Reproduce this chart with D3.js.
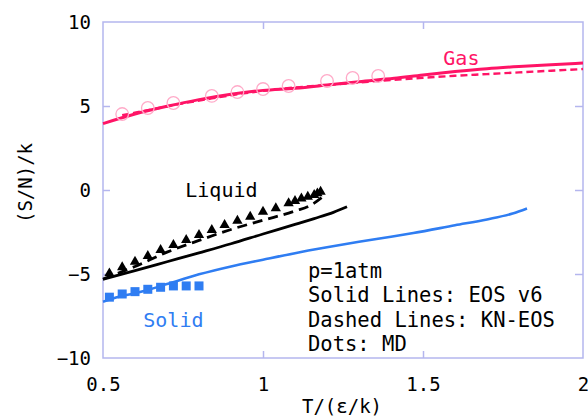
<!DOCTYPE html>
<html>
<head>
<meta charset="utf-8">
<script src="https://cdn.jsdelivr.net/npm/d3@7"></script>
<style>
  body { margin: 0; background: #fff; }
  svg { display: block; }
  text { font-family: "DejaVu Sans Mono", monospace; }
</style>
</head>
<body>
<svg id="chart"></svg>
<script>
// tick values
var xTicks = [0.5, 1, 1.5, 2];
var yTicks = [-10, -5, 0, 5, 10];

// EOS v6 (solid lines)
var gasSolidT = [0.5, 0.6, 0.7, 0.8, 0.9, 1.0, 1.1, 1.2, 1.3, 1.41, 1.5, 1.6, 1.7, 1.8, 1.9, 2.0];
var gasSolidS = [3.95, 4.52, 4.98, 5.38, 5.7, 5.93, 6.06, 6.25, 6.45, 6.65, 6.85, 7.05, 7.22, 7.35, 7.46, 7.56];
var liqSolidT = [0.5, 0.6, 0.7, 0.8, 0.9, 1.0, 1.1, 1.16, 1.22, 1.2625];
var liqSolidS = [-5.32, -4.8, -4.27, -3.74, -3.2, -2.62, -2.05, -1.7, -1.33, -1.0];
var solSolidT = [0.5, 0.55, 0.6, 0.64, 0.7, 0.8, 0.9, 1.0, 1.1, 1.2, 1.3, 1.4, 1.47, 1.6, 1.7, 1.78, 1.825];
var solSolidS = [-6.65, -6.35, -6.15, -5.95, -5.6, -5.02, -4.55, -4.15, -3.76, -3.41, -3.08, -2.78, -2.56, -2.1, -1.75, -1.4, -1.1];

// KN-EOS (dashed lines)
var gasDashT = [0.56, 0.64, 0.72, 0.84, 0.92, 1.0, 1.1, 1.2, 1.3, 1.4, 1.5, 1.6, 1.7, 1.8, 1.9, 2.0];
var gasDashS = [4.45, 4.75, 5.05, 5.45, 5.7, 5.9, 6.1, 6.25, 6.4, 6.55, 6.68, 6.8, 6.9, 7.0, 7.1, 7.2];
var liqDashT = [0.5, 0.6, 0.7, 0.8, 0.9, 1.0, 1.1, 1.15, 1.19];
var liqDashS = [-5.3, -4.55, -3.7, -3.0, -2.35, -1.8, -1.25, -0.9, -0.35];

// MD (dots)
var gasMdT = [0.56, 0.64, 0.72, 0.84, 0.92, 1.0, 1.08, 1.2, 1.28, 1.36];
var gasMdS = [4.52, 4.88, 5.18, 5.6, 5.83, 6.01, 6.19, 6.49, 6.67, 6.79];
var liqMdT = [0.52, 0.56, 0.6, 0.64, 0.68, 0.72, 0.76, 0.8, 0.84, 0.88, 0.92, 0.96, 1.0, 1.04, 1.08, 1.1, 1.12, 1.14, 1.16, 1.17, 1.18];
var liqMdS = [-4.96, -4.6, -4.27, -3.93, -3.57, -3.27, -2.98, -2.68, -2.38, -2.08, -1.83, -1.59, -1.29, -1.09, -0.79, -0.65, -0.5, -0.4, -0.3, -0.2, -0.1];
var solMdT = [0.52, 0.56, 0.6, 0.64, 0.68, 0.72, 0.76, 0.8];
var solMdS = [-6.38, -6.19, -6.05, -5.91, -5.79, -5.71, -5.71, -5.71];

var pink = "#ff1466", pinkLight = "#ffaac8", blue = "#2f7df2", frame = "#b4b6ee";

var W = 588, H = 418;
var margin = { left: 103, right: 5, top: 22, bottom: 60 };
var pw = W - margin.left - margin.right, ph = H - margin.top - margin.bottom;

var svg = d3.select("#chart").attr("width", W).attr("height", H);
var g = svg.append("g").attr("transform", "translate(" + margin.left + "," + margin.top + ")");

var x = d3.scaleLinear().domain([0.5, 2]).range([0, pw]);
var y = d3.scaleLinear().domain([-10, 10]).range([ph, 0]);

function zip(t, s) { return t.map((v, i) => ({ t: v, s: s[i] })); }

var line = d3.line().x(d => x(d.t)).y(d => y(d.s)).curve(d3.curveMonotoneX);

// frame
g.append("rect").attr("width", pw).attr("height", ph)
    .attr("fill", "none").attr("stroke", frame).attr("stroke-width", 1.5);

// axes, ticks pointing inwards
function styleAxis(sel) {
    sel.select(".domain").remove();
    sel.selectAll(".tick line").attr("stroke", frame).attr("stroke-width", 1.5);
    sel.selectAll(".tick text").attr("fill", "#000").style("font-size", "19px");
}
var inner = [1, 1.5];
var innerY = [-5, 0, 5];

g.append("g").attr("transform", "translate(0," + ph + ")")
    .call(d3.axisBottom(x).tickValues(xTicks).tickSize(0).tickPadding(20).tickFormat(d3.format("")))
    .call(styleAxis);
g.append("g").attr("transform", "translate(0," + ph + ")")
    .call(d3.axisBottom(x).tickValues(inner).tickSize(-7).tickFormat(""))
    .call(styleAxis);
g.append("g")
    .call(d3.axisTop(x).tickValues(inner).tickSize(-7).tickFormat(""))
    .call(styleAxis);
g.append("g")
    .call(d3.axisLeft(y).tickValues(yTicks).tickSize(0).tickPadding(12))
    .call(styleAxis);
g.append("g")
    .call(d3.axisLeft(y).tickValues(innerY).tickSize(-7).tickFormat(""))
    .call(styleAxis);
g.append("g").attr("transform", "translate(" + pw + ",0)")
    .call(d3.axisRight(y).tickValues(innerY).tickSize(-8).tickFormat(""))
    .call(styleAxis);

// lines
var plot = g.append("g");
function drawLine(t, s, color, width, dash) {
    plot.append("path").datum(zip(t, s))
        .attr("d", line).attr("fill", "none")
        .attr("stroke", color).attr("stroke-width", width)
        .attr("stroke-dasharray", dash || null);
}
drawLine(solSolidT, solSolidS, blue, 2.6);
drawLine(liqSolidT, liqSolidS, "#000", 2.8);
drawLine(liqDashT, liqDashS, "#000", 2.8, "10,6");
drawLine(gasDashT, gasDashS, pink, 2.4, "7,4");
drawLine(gasSolidT, gasSolidS, pink, 3);

// MD points
plot.selectAll("circle.gas").data(zip(gasMdT, gasMdS)).enter().append("circle")
    .attr("class", "gas")
    .attr("cx", d => x(d.t)).attr("cy", d => y(d.s)).attr("r", 6.3)
    .attr("fill", "none").attr("stroke", pinkLight).attr("stroke-width", 1.3);

plot.selectAll("path.liq").data(zip(liqMdT, liqMdS)).enter().append("path")
    .attr("class", "liq")
    .attr("transform", d => "translate(" + x(d.t) + "," + y(d.s) + ")")
    .attr("d", d3.symbol().type(d3.symbolTriangle).size(46))
    .attr("fill", "#000");

plot.selectAll("rect.sol").data(zip(solMdT, solMdS)).enter().append("rect")
    .attr("class", "sol")
    .attr("x", d => x(d.t) - 4.5).attr("y", d => y(d.s) - 4.5)
    .attr("width", 9).attr("height", 9)
    .attr("fill", blue);

// phase labels
g.append("text").attr("x", x(1.62)).attr("y", y(7.44)).attr("text-anchor", "middle")
    .attr("fill", pink).style("font-size", "20px").text("Gas");
g.append("text").attr("x", x(0.87)).attr("y", y(-0.43)).attr("text-anchor", "middle")
    .attr("fill", "#000").style("font-size", "20px").text("Liquid");
g.append("text").attr("x", x(0.72)).attr("y", y(-8.15)).attr("text-anchor", "middle")
    .attr("fill", blue).style("font-size", "20px").text("Solid");

// note
var notes = ["p=1atm", "Solid Lines: EOS v6", "Dashed Lines: KN-EOS", "Dots: MD"];
g.append("g").selectAll("text").data(notes).enter().append("text")
    .attr("x", 205).attr("y", (d, i) => 256 + i * 24.3)
    .attr("fill", "#000").style("font-size", "20.5px")
    .text(d => d);

// axis titles
svg.append("text").attr("x", 342).attr("y", 413).attr("text-anchor", "middle")
    .style("font-size", "19px").text("T/(ε/k)");
svg.append("text").attr("transform", "translate(32,183) rotate(-90)")
    .attr("text-anchor", "middle").style("font-size", "19px").text("(S/N)/k");
</script>
</body>
</html>
